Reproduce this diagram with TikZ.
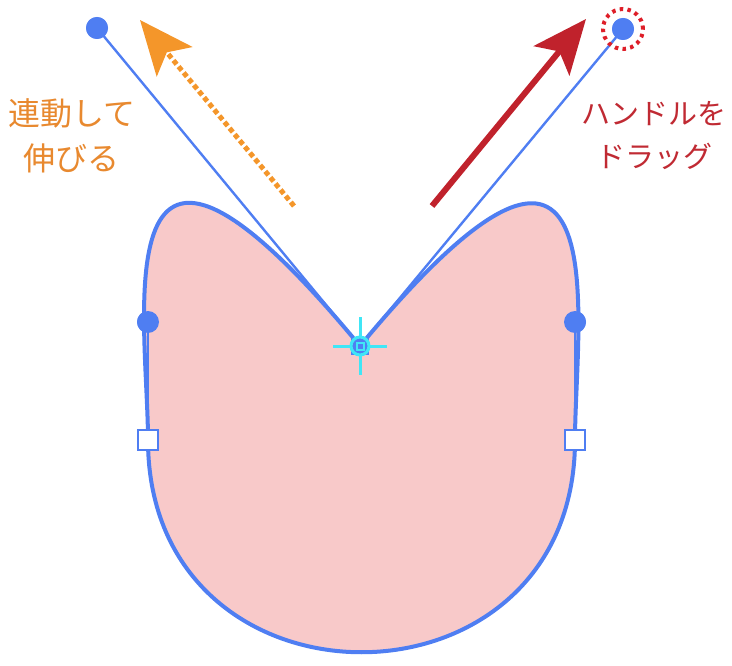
\documentclass[tikz,border=0pt]{standalone}
\usepackage{fontspec}
\newfontfamily\jpfont{Noto Sans CJK JP}
\usetikzlibrary{arrows.meta}
\definecolor{petal}{HTML}{F8C9C9}
\definecolor{pathblue}{HTML}{4F7EF2}
\definecolor{pullorange}{HTML}{F4962A}
\definecolor{dragred}{HTML}{C0222C}
\definecolor{ringred}{HTML}{DE1E28}
\definecolor{textorange}{HTML}{E8892F}
\definecolor{textred}{HTML}{C02A33}
\definecolor{hovercyan}{HTML}{40E6F6}

\begin{document}
\begin{tikzpicture}[x=1pt,y=-1pt,
  handle end/.style={circle,fill=pathblue,inner sep=0pt,minimum size=22pt},
  anchor pt/.style={rectangle,draw=pathblue,fill=white,line width=1.2pt,inner sep=0pt,minimum size=20pt},
  sel anchor/.style={rectangle,fill=pathblue,inner sep=0pt,minimum size=18pt},
  handle line/.style={pathblue,line width=2.4pt},
  label jp/.style={font=\jpfont\fontsize{32}{45}\selectfont,align=center}]
  \useasboundingbox (0,0) rectangle (732,666);

  % points of the path
  \node[sel anchor] (a) at (360,346) {};
  \node[handle end] (hl) at (97,28) {};
  \node[handle end] (hr) at (623,29) {};
  \node[handle end] (sl) at (148,322) {};
  \node[handle end] (sr) at (575,322) {};
  \coordinate (cl) at (148,723);
  \coordinate (cr) at (575,723);

  % shape
  \path[fill=petal] (a.center) .. controls (hl.center) and (sl.center) .. (148,440)
    .. controls (cl) and (cr) .. (575,440)
    .. controls (sr.center) and (hr.center) .. (a.center) -- cycle;
  \draw[pathblue,line width=4pt,line join=round] (a.center) .. controls (hl.center) and (sl.center) .. (148,440)
    .. controls (cl) and (cr) .. (575,440)
    .. controls (sr.center) and (hr.center) .. (a.center);

  % handles
  \draw[handle line] (a.center) -- (hl.center);
  \draw[handle line] (a.center) -- (hr.center);
  \draw[handle line] (sl.center) -- (148,440);
  \draw[handle line] (sr.center) -- (575,440);
  \node[handle end] at (hl) {};
  \node[handle end] at (hr) {};
  \node[handle end] at (sl) {};
  \node[handle end] at (sr) {};
  \node[anchor pt] (bl) at (148,440) {};
  \node[anchor pt] (br) at (575,440) {};
  \node[sel anchor] at (a) {};

  % hover mark
  \draw[hovercyan,line width=3pt] ([xshift=-27pt]a.center) -- ([xshift=27pt]a.center);
  \draw[hovercyan,line width=3pt] ([yshift=29pt]a.center) -- ([yshift=-29pt]a.center);
  \draw[hovercyan,line width=3pt,fill=pathblue] (a.center) circle[radius=9pt];
  \draw[hovercyan,line width=2pt] ([shift={(-3.5pt,-3.5pt)}]a.center) rectangle ([shift={(3.5pt,3.5pt)}]a.center);

  % dotted ring round the dragged handle
  \draw[ringred,line width=4pt,dash pattern=on 3.5pt off 4.3pt] (hr) circle[radius=20pt];

  % arrows
  \coordinate (ot) at (294,206);
  \coordinate (oh) at (140,20);
  \coordinate (rt) at (432,206);
  \coordinate (rh) at (586,19);
  \draw[pullorange,line width=5pt,dash pattern=on 5pt off 3pt,
    -{Stealth[length=54pt,width=46pt,inset=12pt]}] (ot) -- (oh);
  \draw[dragred,line width=6pt,
    -{Stealth[length=54pt,width=46pt,inset=12pt]}] (rt) -- (rh);

  % labels
  \node[label jp,text=textorange] (lt) at (72,136) {連動して\\伸びる};
  \node[label jp,text=textred,font=\jpfont\fontsize{29}{43}\selectfont] (rl) at (654,136) {ハンドルを\\ドラッグ};
\end{tikzpicture}
\end{document}
